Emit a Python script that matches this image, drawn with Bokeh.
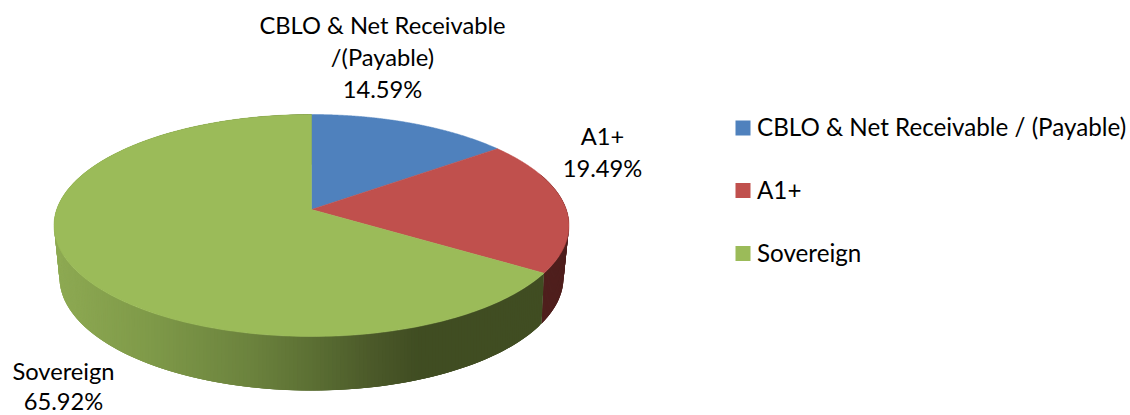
import numpy as np
from bokeh.plotting import figure
from bokeh.models import Range1d
from bokeh.core.properties import value
from bokeh.embed import file_html
from bokeh.resources import INLINE

names = ["CBLO & Net Receivable / (Payable)", "A1+", "Sovereign"]
shares = [14.59, 19.49, 65.92]
top_colors = ["#4F81BD", "#C0504D", "#9BBB59"]
label_lines = [["CBLO & Net Receivable", "/(Payable)", "14.59%"], ["A1+", "19.49%"], ["Sovereign", "65.92%"]]

FONT = "Lato"
W, H = 1130, 415
p = figure(width=W, height=H, output_backend="svg", toolbar_location=None,
           x_range=Range1d(0, W), y_range=Range1d(H, 0),
           min_border=0, outline_line_color=None, background_fill_color="white", border_fill_color="white")
p.axis.visible = False
p.grid.visible = False


def project(theta, cx, cy, rx, ry, c):
    """Perspective view of a disc: theta runs clockwise from the top."""
    u, v = np.sin(theta), np.cos(theta)
    d = 1 + c * v
    return cx + rx * u * np.sqrt(1 - c * c) / d, cy - ry * (v + c) / d


TOP = (311.0, 225.0, 257.5, 111.0, 0.144)
BOT = (311.0, 277.0, 252.0, 113.0, 0.17)

fr = np.cumsum([0] + shares) / sum(shares) * 2 * np.pi

wall_x = [55, 150, 250, 311, 370, 420, 570]
wall_r = [0x8E, 0x7F, 0x6C, 0x5C, 0x4C, 0x40, 0x40]
wall_g = [0xAA, 0x9A, 0x83, 0x70, 0x5A, 0x4D, 0x4D]
wall_b = [0x53, 0x49, 0x3E, 0x34, 0x2A, 0x22, 0x22]


def green_wall(x):
    return "#%02x%02x%02x" % (int(np.interp(x, wall_x, wall_r)), int(np.interp(x, wall_x, wall_g)), int(np.interp(x, wall_x, wall_b)))


# side walls: strips overlap their neighbour so no seams show
for i in range(3):
    a0, a1 = fr[i], fr[i + 1]
    n = max(2, int((a1 - a0) / np.radians(0.75)))
    t = np.linspace(a0, a1, n + 1)
    xt, yt = project(t, *TOP)
    xb, yb = project(t, *BOT)
    xs, ys, cols = [], [], []
    for k in range(n):
        if np.cos(t[k]) > 0.35 and i != 2:
            continue
        e = min(k + 3, n)
        xs.append([xt[k], xt[e], xb[e], xb[k]])
        ys.append([yt[k], yt[e], yb[e], yb[k]])
        cols.append(green_wall((xt[k] + xt[k + 1]) / 2) if i == 2 else "#4F1F1D")
    if xs:
        p.patches(xs, ys, fill_color=cols, line_color=None)

# top faces
for i in range(3):
    t = np.linspace(fr[i], fr[i + 1], 240)
    x, y = project(t, *TOP)
    p.patch(np.r_[TOP[0], x], np.r_[225.0 - 111.0 * 0.144, y], fill_color=top_colors[i], line_color=top_colors[i], line_width=0.5)

# data labels
label_pos = [(382, [24.5, 56.5, 88.5]), (602, [135, 167]), (63, [370, 400])]
for lines, (lx, lys) in zip(label_lines, label_pos):
    p.text([lx] * len(lines), lys, text=lines, text_font=value(FONT), text_font_size="23.7px",
           text_color="#000000", text_align="center", text_baseline="middle")

# legend
legend_y = [127.5, 190, 253]
text_y = [125.5, 188.5, 251.5]
p.quad(left=[735] * 3, right=[750] * 3, top=[y - 7.5 for y in legend_y], bottom=[y + 7.5 for y in legend_y],
       fill_color=top_colors, line_color=None)
p.text([756.5] * 3, text_y, text=names, text_font=value(FONT), text_font_size="24.2px",
       text_color="#000000", text_align="left", text_baseline="middle")

open("out.html", "w").write(file_html(p, INLINE))
